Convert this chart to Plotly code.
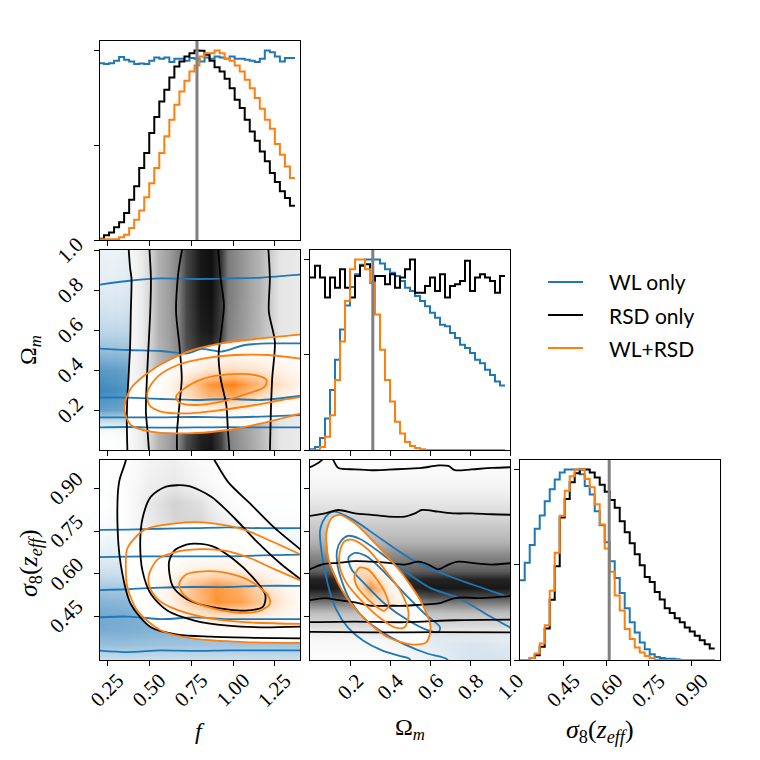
import plotly.graph_objects as go

W = H = 760
BLUE, BLACK, ORANGE, GREY = "#1f77b4", "#000000", "#ff7f0e", "#808080"

# ---------------- axes / ticks ----------------
F_RANGE = [0.206, 1.40]
OM_RANGE = [0.0, 1.0]
S8_RANGE = [0.296, 1.0]
HIST_RANGE = [0.0, 1.05]
F_TICKS = [0.25, 0.50, 0.75, 1.00, 1.25]
F_TICKTEXT = ["0.25", "0.50", "0.75", "1.00", "1.25"]
OM_TICKS = [0.2, 0.4, 0.6, 0.8, 1.0]
OM_TICKTEXT = ["0.2", "0.4", "0.6", "0.8", "1.0"]
S8_TICKS = [0.45, 0.60, 0.75, 0.90]
S8_TICKTEXT = ["0.45", "0.60", "0.75", "0.90"]
HIST_TICKS = [0.0, 0.5, 1.0]
TRUTH_F, TRUTH_OM, TRUTH_S8 = 0.785, 0.314, 0.610
NAMES = ["WL only", "RSD only", "WL+RSD"]

# ---------------- 1D histograms (normalised to peak) ----------------
F_BIN_START, F_BIN_WIDTH = 0.20, 0.030
F_HIST_WL = [0.933, 0.928, 0.933, 0.946, 0.965, 0.951, 0.942, 0.928, 0.931, 0.928,
             0.946, 0.963, 0.956, 0.963, 0.939, 0.956, 0.956, 0.946, 0.960, 0.956,
             0.942, 0.963, 0.956, 0.968, 0.963, 0.956, 0.968, 0.956, 0.956, 0.951,
             0.946, 0.939, 0.956, 1.000, 0.991, 0.968, 0.942, 0.960, 0.960]
F_HIST_RSD = [0.007, 0.025, 0.040, 0.067, 0.093, 0.142, 0.213, 0.283, 0.380, 0.459,
              0.564, 0.649, 0.731, 0.793, 0.858, 0.916, 0.942, 0.968, 0.986, 1.000,
              0.998, 0.977, 0.946, 0.912, 0.889, 0.851, 0.801, 0.740, 0.696, 0.634,
              0.573, 0.524, 0.467, 0.415, 0.353, 0.306, 0.257, 0.221, 0.181]
F_HIST_JOINT = [0.004, 0.004, 0.004, 0.004, 0.014, 0.028, 0.063, 0.107, 0.155, 0.225,
                0.300, 0.380, 0.459, 0.547, 0.634, 0.714, 0.784, 0.840, 0.889, 0.921,
                0.968, 0.986, 0.986, 1.000, 0.986, 0.956, 0.946, 0.921, 0.889, 0.845,
                0.801, 0.749, 0.692, 0.634, 0.587, 0.506, 0.450, 0.388, 0.327]

OM_BIN_START, OM_BIN_WIDTH = 0.0, 0.025
OM_HIST_WL = [0.004, 0.016, 0.063, 0.165, 0.315, 0.474, 0.632, 0.759, 0.856, 0.923,
              0.972, 1.000, 1.000, 1.000, 0.979, 0.949, 0.931, 0.914, 0.887, 0.852,
              0.835, 0.808, 0.782, 0.755, 0.720, 0.694, 0.658, 0.650, 0.614, 0.588,
              0.553, 0.535, 0.509, 0.474, 0.456, 0.421, 0.394, 0.359, 0.338]
OM_HIST_RSD = [0.905, 0.967, 0.905, 0.800, 0.905, 0.852, 0.949, 0.852, 0.800, 0.914,
               0.967, 0.975, 0.879, 0.914, 0.914, 0.870, 0.923, 0.852, 0.905, 0.949,
               1.000, 0.826, 0.826, 0.861, 0.905, 0.835, 0.923, 0.800, 0.861, 0.870,
               0.887, 0.993, 0.835, 0.905, 0.923, 0.905, 0.887, 0.826, 0.914]
OM_HIST_JOINT = [0.0, 0.0, 0.016, 0.069, 0.183, 0.368, 0.570, 0.782, 0.949, 1.000,
                 1.000, 0.949, 0.879, 0.711, 0.526, 0.368, 0.254, 0.148, 0.086, 0.042,
                 0.021, 0.011, 0.004, 0.0, 0.0, 0.0, 0.0, 0.0, 0.0, 0.0,
                 0.0, 0.0, 0.0, 0.0, 0.0, 0.0, 0.0, 0.0, 0.0]

S8_BIN_START, S8_BIN_WIDTH = 0.295, 0.0176
S8_HIST_WL = [0.419, 0.510, 0.604, 0.689, 0.758, 0.834, 0.896, 0.947, 0.984, 1.000,
              1.000, 1.000, 0.975, 0.913, 0.869, 0.781, 0.707, 0.618, 0.519, 0.431,
              0.352, 0.272, 0.198, 0.145, 0.092, 0.057, 0.030, 0.016, 0.011, 0.007,
              0.007, 0.004, 0.0, 0.0, 0.0, 0.0, 0.0, 0.0, 0.0]
S8_HIST_RSD = [0.0, 0.0, 0.010, 0.025, 0.069, 0.166, 0.316, 0.492, 0.748, 0.845,
               0.933, 0.981, 1.000, 1.000, 0.984, 0.958, 0.920, 0.883, 0.840, 0.799,
               0.728, 0.671, 0.613, 0.555, 0.498, 0.436, 0.410, 0.357, 0.318, 0.272,
               0.247, 0.219, 0.198, 0.171, 0.150, 0.127, 0.104, 0.083, 0.060]
S8_HIST_JOINT = [0.0, 0.0, 0.010, 0.034, 0.086, 0.183, 0.363, 0.563, 0.757, 0.889,
                 0.965, 1.000, 1.000, 0.950, 0.907, 0.818, 0.712, 0.586, 0.463, 0.339,
                 0.260, 0.163, 0.110, 0.065, 0.039, 0.021, 0.011, 0.0, 0.0, 0.0,
                 0.0, 0.0, 0.0, 0.0, 0.0, 0.0, 0.0, 0.0, 0.0]

# ---------------- 2D densities (relative to panel peak) ----------------
# panel f - Omega_m
P10_WL_OM = [-0.05, 0.0, 0.05, 0.10, 0.15, 0.20, 0.30, 0.40, 0.50, 0.60, 0.70, 0.80, 0.90, 1.0, 1.05]
P10_WL_DENS = [0.0, 0.0, 0.05, 0.20, 0.55, 0.85, 0.95, 0.88, 0.70, 0.55, 0.45, 0.38, 0.33, 0.30, 0.30]
P10_RSD_F = [0.15, 0.30, 0.37, 0.45, 0.50, 0.55, 0.62, 0.67, 0.72, 0.80, 0.87, 0.93, 0.97, 1.05, 1.15, 1.22, 1.28, 1.35, 1.45]
P10_RSD_DENS = [0.03, 0.08, 0.15, 0.28, 0.40, 0.55, 0.62, 0.70, 0.85, 0.95, 0.97, 0.88, 0.72, 0.65, 0.55, 0.45, 0.32, 0.30, 0.28]
P10_JOINT_F = [0.15, 0.40, 0.55, 0.70, 0.85, 1.00, 1.15, 1.30, 1.45]
P10_JOINT_OM = [-0.05, 0.10, 0.20, 0.27, 0.33, 0.40, 0.50, 0.60, 0.80, 1.05]
P10_JOINT_DENS = [
    [0, 0, 0, 0, 0, 0, 0, 0, 0],
    [0, 0, 0.03, 0.05, 0.06, 0.06, 0.05, 0.03, 0.02],
    [0, 0.02, 0.08, 0.20, 0.30, 0.30, 0.20, 0.12, 0.06],
    [0, 0.03, 0.12, 0.45, 0.75, 0.80, 0.55, 0.30, 0.15],
    [0, 0.03, 0.12, 0.50, 0.90, 1.00, 0.75, 0.45, 0.25],
    [0, 0.02, 0.08, 0.25, 0.45, 0.55, 0.45, 0.30, 0.18],
    [0, 0, 0.03, 0.06, 0.12, 0.15, 0.15, 0.12, 0.08],
    [0, 0, 0, 0.02, 0.03, 0.04, 0.04, 0.04, 0.03],
    [0, 0, 0, 0, 0, 0, 0, 0, 0],
    [0, 0, 0, 0, 0, 0, 0, 0, 0]]

# panel f - sigma8
P20_WL_S8 = [0.25, 0.30, 0.35, 0.40, 0.45, 0.50, 0.55, 0.60, 0.67, 0.75, 0.85, 1.0, 1.05]
P20_WL_DENS = [0.40, 0.50, 0.68, 0.78, 0.80, 0.75, 0.65, 0.50, 0.35, 0.20, 0.08, 0.02, 0.02]
P20_RSD_F = [0.15, 0.35, 0.50, 0.65, 0.80, 0.95, 1.10, 1.25, 1.40, 1.50]
P20_RSD_S8 = [0.25, 0.40, 0.50, 0.60, 0.70, 0.78, 0.85, 0.92, 1.05]
P20_RSD_DENS = [
    [0, 0, 0.02, 0.03, 0.03, 0.03, 0.03, 0.02, 0.02, 0.02],
    [0, 0.02, 0.08, 0.10, 0.12, 0.12, 0.10, 0.08, 0.06, 0.05],
    [0, 0.05, 0.15, 0.30, 0.35, 0.35, 0.30, 0.20, 0.10, 0.08],
    [0, 0.08, 0.20, 0.35, 0.40, 0.35, 0.25, 0.12, 0.06, 0.05],
    [0, 0.10, 0.25, 0.35, 0.38, 0.30, 0.15, 0.06, 0.03, 0.02],
    [0, 0.10, 0.28, 0.40, 0.40, 0.25, 0.08, 0.03, 0.02, 0.01],
    [0, 0.10, 0.30, 0.42, 0.35, 0.15, 0.04, 0.02, 0.01, 0.01],
    [0, 0.10, 0.25, 0.30, 0.20, 0.08, 0.02, 0.01, 0, 0],
    [0, 0.08, 0.20, 0.22, 0.12, 0.05, 0.01, 0, 0, 0]]
P20_JOINT_F = [0.15, 0.45, 0.60, 0.75, 0.90, 1.05, 1.20, 1.35, 1.50]
P20_JOINT_S8 = [0.25, 0.38, 0.44, 0.50, 0.56, 0.62, 0.70, 0.80, 1.05]
P20_JOINT_DENS = [
    [0, 0, 0, 0, 0, 0, 0, 0, 0],
    [0, 0.01, 0.03, 0.05, 0.07, 0.08, 0.08, 0.06, 0.04],
    [0, 0.03, 0.10, 0.25, 0.40, 0.40, 0.30, 0.18, 0.10],
    [0, 0.05, 0.25, 0.65, 0.92, 0.85, 0.60, 0.30, 0.15],
    [0, 0.05, 0.30, 0.70, 0.90, 0.75, 0.45, 0.20, 0.10],
    [0, 0.03, 0.15, 0.30, 0.35, 0.30, 0.20, 0.10, 0.05],
    [0, 0.01, 0.04, 0.06, 0.07, 0.06, 0.04, 0.02, 0.01],
    [0, 0, 0, 0, 0, 0, 0, 0, 0],
    [0, 0, 0, 0, 0, 0, 0, 0, 0]]

# panel Omega_m - sigma8
P21_WL_OM = [-0.05, 0.20, 0.40, 0.50, 0.60, 0.70, 0.80, 0.90, 1.05]
P21_WL_S8 = [0.25, 0.30, 0.35, 0.40, 0.50, 0.60, 0.70, 0.80, 1.05]
P21_WL_DENS = [
    [0, 0, 0.08, 0.20, 0.30, 0.38, 0.45, 0.45, 0.42],
    [0, 0, 0.08, 0.20, 0.30, 0.38, 0.45, 0.45, 0.42],
    [0, 0, 0.12, 0.25, 0.32, 0.38, 0.42, 0.40, 0.35],
    [0, 0.05, 0.25, 0.35, 0.35, 0.30, 0.25, 0.20, 0.18],
    [0, 0.35, 0.50, 0.40, 0.30, 0.20, 0.15, 0.10, 0.08],
    [0.05, 0.60, 0.40, 0.20, 0.10, 0.05, 0.03, 0.02, 0.02],
    [0.20, 0.50, 0.15, 0.05, 0.02, 0.01, 0, 0, 0],
    [0.30, 0.20, 0.03, 0, 0, 0, 0, 0, 0],
    [0.05, 0.02, 0, 0, 0, 0, 0, 0, 0]]
P21_RSD_S8 = [0.25, 0.30, 0.365, 0.42, 0.46, 0.49, 0.52, 0.55, 0.58, 0.61, 0.67, 0.71, 0.81, 0.90, 1.0, 1.05]
P21_RSD_DENS = [0.05, 0.10, 0.17, 0.39, 0.50, 0.67, 0.85, 0.95, 0.93, 0.80, 0.67, 0.55, 0.39, 0.22, 0.10, 0.10]
P21_JOINT_OM = [-0.05, 0.10, 0.20, 0.25, 0.30, 0.35, 0.40, 0.50, 0.60, 0.80, 1.05]
P21_JOINT_S8 = [0.25, 0.40, 0.45, 0.50, 0.55, 0.60, 0.65, 0.70, 0.80, 1.05]
P21_JOINT_DENS = [
    [0, 0, 0, 0, 0, 0, 0, 0, 0, 0, 0],
    [0, 0, 0, 0, 0.02, 0.05, 0.08, 0.08, 0.04, 0, 0],
    [0, 0, 0, 0.03, 0.10, 0.20, 0.25, 0.15, 0.05, 0, 0],
    [0, 0, 0.03, 0.15, 0.40, 0.55, 0.45, 0.15, 0.03, 0, 0],
    [0, 0, 0.12, 0.50, 0.95, 0.70, 0.30, 0.06, 0, 0, 0],
    [0, 0.02, 0.25, 0.60, 0.55, 0.30, 0.10, 0.02, 0, 0, 0],
    [0, 0.03, 0.20, 0.25, 0.15, 0.06, 0.02, 0, 0, 0, 0],
    [0, 0.02, 0.08, 0.07, 0.03, 0, 0, 0, 0, 0, 0],
    [0, 0, 0, 0, 0, 0, 0, 0, 0, 0, 0],
    [0, 0, 0, 0, 0, 0, 0, 0, 0, 0, 0]]

# ---------------- contour lines (x list, y list) ----------------
F7 = [0.19, 0.37, 0.57, 0.77, 0.97, 1.17, 1.42]
P10_WL_LINES = [
    (F7, [0.825, 0.845, 0.858, 0.855, 0.858, 0.862, 0.878]),
    ([0.19, 0.37, 0.57, 0.73, 0.81, 0.93, 1.07, 1.23, 1.42],
     [0.508, 0.500, 0.495, 0.483, 0.505, 0.492, 0.525, 0.533, 0.533]),
    (F7, [0.262, 0.262, 0.255, 0.250, 0.255, 0.250, 0.272]),
    (F7, [0.163, 0.163, 0.163, 0.165, 0.163, 0.167, 0.175]),
    (F7, [0.113, 0.115, 0.112, 0.113, 0.114, 0.113, 0.113])]
P10_RSD_LINES = [
    ([0.376, 0.386, 0.394, 0.390, 0.386, 0.376, 0.370, 0.366, 0.370],
     [1.02, 0.908, 0.858, 0.692, 0.525, 0.358, 0.275, 0.158, -0.02]),
    ([0.50, 0.51, 0.506, 0.496, 0.486, 0.48, 0.49, 0.50],
     [1.02, 0.858, 0.692, 0.525, 0.358, 0.192, 0.092, -0.02]),
    ([0.70, 0.68, 0.67, 0.66, 0.68, 0.694, 0.68, 0.666, 0.666],
     [1.02, 0.925, 0.858, 0.692, 0.525, 0.358, 0.225, 0.092, -0.02]),
    ([0.91, 0.926, 0.946, 0.93, 0.914, 0.926, 0.96, 0.97, 0.98],
     [1.02, 0.858, 0.725, 0.592, 0.475, 0.358, 0.225, 0.092, -0.02]),
    ([1.21, 1.22, 1.214, 1.25, 1.234, 1.226, 1.22],
     [1.02, 0.858, 0.692, 0.542, 0.358, 0.192, -0.02])]
P10_JOINT_LINES = [
    ([0.66, 0.71, 0.83, 0.97, 1.13, 1.20, 1.19, 1.09, 0.93, 0.77, 0.68, 0.66],
     [0.267, 0.308, 0.358, 0.378, 0.375, 0.350, 0.317, 0.283, 0.242, 0.225, 0.238, 0.267]),
    ([1.42, 1.21, 1.01, 0.83, 0.67, 0.55, 0.49, 0.50, 0.57, 0.73, 0.93, 1.13, 1.29, 1.42],
     [0.455, 0.475, 0.475, 0.458, 0.425, 0.367, 0.292, 0.225, 0.192, 0.183, 0.200, 0.225, 0.250, 0.267]),
    ([1.42, 1.17, 0.93, 0.73, 0.53, 0.39, 0.35, 0.39, 0.51, 0.73, 0.97, 1.17, 1.42],
     [0.578, 0.558, 0.533, 0.492, 0.408, 0.308, 0.208, 0.125, 0.092, 0.083, 0.100, 0.133, 0.186])]

P20_WL_LINES = [
    (F7, [0.754, 0.755, 0.758, 0.760, 0.763, 0.760, 0.760]),
    (F7, [0.658, 0.660, 0.661, 0.661, 0.661, 0.664, 0.667]),
    (F7, [0.542, 0.545, 0.551, 0.553, 0.553, 0.557, 0.557]),
    (F7, [0.446, 0.449, 0.440, 0.446, 0.440, 0.440, 0.440]),
    (F7, [0.330, 0.324, 0.330, 0.328, 0.330, 0.330, 0.330])]
P20_RSD_LINES = [
    ([0.618, 0.655, 0.745, 0.875, 1.005, 1.12, 1.193, 1.18, 1.075, 0.875, 0.725, 0.64, 0.618],
     [0.641, 0.684, 0.705, 0.697, 0.650, 0.586, 0.525, 0.484, 0.470, 0.482, 0.510, 0.556, 0.641]),
    ([1.42, 1.29, 1.15, 1.01, 0.87, 0.73, 0.60, 0.51, 0.46, 0.446, 0.46, 0.51, 0.61, 0.77, 0.97, 1.17, 1.42],
     [0.573, 0.632, 0.708, 0.795, 0.871, 0.909, 0.906, 0.871, 0.795, 0.702, 0.609, 0.528, 0.469, 0.435, 0.417, 0.411, 0.414]),
    ([0.85, 0.89, 0.97, 1.11, 1.25, 1.42],
     [1.04, 0.999, 0.923, 0.842, 0.760, 0.677]),
    ([0.364, 0.36, 0.32, 0.31, 0.33, 0.39, 0.51, 0.67, 0.87, 1.13, 1.42],
     [1.04, 0.999, 0.923, 0.783, 0.632, 0.493, 0.411, 0.385, 0.378, 0.374, 0.372])]
P20_JOINT_LINES = [
    ([0.68, 0.72, 0.86, 1.00, 1.12, 1.21, 1.22, 1.16, 1.02, 0.86, 0.74, 0.69, 0.68],
     [0.568, 0.597, 0.609, 0.597, 0.568, 0.522, 0.493, 0.469, 0.463, 0.481, 0.510, 0.539, 0.568]),
    ([1.42, 1.25, 1.10, 0.95, 0.80, 0.65, 0.55, 0.50, 0.50, 0.55, 0.63, 0.83, 1.07, 1.42],
     [0.572, 0.615, 0.655, 0.681, 0.686, 0.675, 0.650, 0.600, 0.555, 0.510, 0.481, 0.446, 0.429, 0.423]),
    ([1.42, 1.23, 1.07, 0.87, 0.67, 0.47, 0.37, 0.36, 0.37, 0.43, 0.57, 0.77, 1.07, 1.42],
     [0.663, 0.714, 0.754, 0.778, 0.778, 0.754, 0.690, 0.632, 0.551, 0.469, 0.400, 0.371, 0.359, 0.356])]

P21_WL_LINES = [
    ([0.52, 0.495, 0.45, 0.36, 0.265, 0.19, 0.13, 0.09, 0.058, 0.05, 0.065, 0.095, 0.125, 0.215, 0.36, 0.52, 0.70, 0.88, 1.0, 1.042],
     [0.27, 0.301, 0.31, 0.33, 0.365, 0.41, 0.475, 0.56, 0.676, 0.75, 0.785, 0.812, 0.818, 0.79, 0.72, 0.645, 0.59, 0.545, 0.516, 0.504]),
    ([0.71, 0.68, 0.59, 0.47, 0.37, 0.27, 0.19, 0.14, 0.135, 0.155, 0.19, 0.25, 0.33, 0.46, 0.60, 0.74, 0.90, 1.0, 1.042],
     [0.272, 0.301, 0.318, 0.352, 0.39, 0.443, 0.52, 0.62, 0.68, 0.715, 0.733, 0.722, 0.685, 0.615, 0.55, 0.515, 0.45, 0.411, 0.402]),
    ([0.192, 0.225, 0.283, 0.375, 0.475, 0.575, 0.65, 0.642, 0.592, 0.492, 0.375, 0.275, 0.208, 0.192],
     [0.656, 0.673, 0.661, 0.603, 0.528, 0.458, 0.411, 0.394, 0.400, 0.435, 0.493, 0.563, 0.615, 0.656])]
P21_RSD_LINES = [
    ([-0.02, 0.0, 0.03, 0.058, 0.07], [0.972, 0.975, 0.985, 0.999, 1.01]),
    ([0.108, 0.117, 0.142, 0.225, 0.308, 0.392, 0.475, 0.558, 0.642, 0.692, 0.725, 0.808, 0.908, 1.02],
     [1.01, 0.999, 0.972, 0.967, 0.964, 0.966, 0.969, 0.972, 0.981, 0.979, 0.964, 0.967, 0.972, 0.975]),
    ([-0.02, 0.075, 0.142, 0.225, 0.308, 0.392, 0.475, 0.525, 0.558, 0.642, 0.725, 0.808, 0.908, 1.02],
     [0.801, 0.812, 0.824, 0.812, 0.807, 0.801, 0.801, 0.812, 0.824, 0.818, 0.812, 0.812, 0.809, 0.807]),
    ([-0.02, 0.058, 0.142, 0.225, 0.308, 0.392, 0.475, 0.542, 0.592, 0.642, 0.692, 0.742, 0.842, 0.908, 1.02],
     [0.609, 0.632, 0.638, 0.644, 0.642, 0.638, 0.632, 0.642, 0.632, 0.615, 0.632, 0.642, 0.635, 0.632, 0.638]),
    ([-0.02, 0.075, 0.142, 0.225, 0.308, 0.392, 0.475, 0.558, 0.642, 0.725, 0.775, 0.842, 1.02],
     [0.504, 0.514, 0.507, 0.499, 0.487, 0.487, 0.487, 0.491, 0.495, 0.514, 0.516, 0.514, 0.522]),
    ([-0.02, 0.225, 0.475, 0.725, 1.02], [0.429, 0.431, 0.429, 0.436, 0.438]),
    ([-0.02, 0.308, 0.642, 1.02], [0.395, 0.393, 0.394, 0.393])]
P21_JOINT_LINES = [
    ([0.223, 0.248, 0.290, 0.340, 0.382, 0.393, 0.370, 0.323, 0.265, 0.232, 0.223],
     [0.592, 0.621, 0.615, 0.574, 0.522, 0.487, 0.469, 0.489, 0.528, 0.559, 0.592]),
    ([0.148, 0.173, 0.215, 0.290, 0.373, 0.457, 0.493, 0.473, 0.423, 0.357, 0.265, 0.182, 0.148, 0.148],
     [0.673, 0.714, 0.719, 0.685, 0.615, 0.533, 0.458, 0.411, 0.411, 0.440, 0.499, 0.568, 0.626, 0.673]),
    ([0.082, 0.107, 0.148, 0.223, 0.340, 0.457, 0.557, 0.603, 0.582, 0.507, 0.390, 0.257, 0.157, 0.093, 0.082],
     [0.743, 0.795, 0.807, 0.778, 0.696, 0.603, 0.499, 0.411, 0.359, 0.351, 0.376, 0.452, 0.545, 0.650, 0.743])]

# ---------------- layout geometry (pixels) ----------------
def px_x(a, b):
    return [a / W, b / W]


def px_y(top, bottom):
    return [1 - bottom / H, 1 - top / H]


COLS = [px_x(100, 300), px_x(310, 510), px_x(520, 720)]
ROWS = [px_y(41, 240), px_y(250, 450), px_y(460, 660)]
TICK_FONT = dict(family="Liberation Serif", size=21, color="black")
TITLE_FONT = dict(family="Liberation Serif", size=24, color="black")
SIGMA_FONT = dict(family="Liberation Serif", size=26, color="black")
LEGEND_FONT = dict(family="Lato", size=21, color="black")
LINE_W = 1.8

fig = go.Figure()


def rgb_of(hexc):
    return tuple(int(hexc[i:i + 2], 16) for i in (1, 3, 5))


def density_scale(hexc):
    r, g, b = rgb_of(hexc)
    return [[0, "rgba(255,255,255,0)"], [1, f"rgba({r},{g},{b},1)"]]


def add_heat(x, y, z, color, xa, ya):
    fig.add_trace(go.Heatmap(x=x, y=y, z=z, zmin=0, zmax=1, zsmooth="best",
                             colorscale=density_scale(color), showscale=False,
                             xaxis=xa, yaxis=ya, hoverinfo="skip"))


def add_white(xs, ys, xa, ya):
    fig.add_trace(go.Scatter(x=xs, y=ys, mode="lines", fill="toself", fillcolor="white",
                             line=dict(width=0, color="white"), xaxis=xa, yaxis=ya,
                             showlegend=False, hoverinfo="skip"))


def add_lines(lines, color, xa, ya):
    for xs, ys in lines:
        fig.add_trace(go.Scatter(x=xs, y=ys, mode="lines",
                                 line=dict(color=color, width=LINE_W, shape="spline", smoothing=0.8),
                                 xaxis=xa, yaxis=ya, showlegend=False, hoverinfo="skip"))


def add_hist(start, width, vals, color, xa, ya):
    xs = [start + i * width for i in range(len(vals) + 1)]
    ys = list(vals) + [vals[-1]]
    fig.add_trace(go.Scatter(x=xs, y=ys, mode="lines", line=dict(color=color, width=2, shape="hv"),
                             xaxis=xa, yaxis=ya, showlegend=False, hoverinfo="skip"))


def add_truth(val, xa, ya):
    fig.add_trace(go.Scatter(x=[val, val], y=HIST_RANGE, mode="lines", line=dict(color=GREY, width=3),
                             xaxis=xa, yaxis=ya, showlegend=False, hoverinfo="skip"))


# ---- panel (0,0): f histogram ----
add_hist(F_BIN_START, F_BIN_WIDTH, F_HIST_WL, BLUE, "x", "y")
add_hist(F_BIN_START, F_BIN_WIDTH, F_HIST_RSD, BLACK, "x", "y")
add_hist(F_BIN_START, F_BIN_WIDTH, F_HIST_JOINT, ORANGE, "x", "y")
add_truth(TRUTH_F, "x", "y")

# ---- panel (1,0): f vs Omega_m ----
add_heat([0.1, 1.5], P10_WL_OM, [[v, v] for v in P10_WL_DENS], BLUE, "x2", "y2")
v1x, v1y = P10_RSD_LINES[0]
add_white(v1x + [1.6, 1.6, v1x[0]], v1y + [-0.1, 1.1, 1.1], "x2", "y2")
add_heat(P10_RSD_F, [-0.1, 1.1], [P10_RSD_DENS, P10_RSD_DENS], BLACK, "x2", "y3")
o3x, o3y = P10_JOINT_LINES[2]
add_white(o3x + [1.6, 1.6], o3y + [o3y[-1], o3y[0]], "x2", "y3")
add_heat(P10_JOINT_F, P10_JOINT_OM, P10_JOINT_DENS, ORANGE, "x2", "y4")
add_lines(P10_WL_LINES, BLUE, "x2", "y4")
add_lines(P10_RSD_LINES, BLACK, "x2", "y4")
add_lines(P10_JOINT_LINES, ORANGE, "x2", "y4")

# ---- panel (1,1): Omega_m histogram ----
add_hist(OM_BIN_START, OM_BIN_WIDTH, OM_HIST_WL, BLUE, "x5", "y5")
add_hist(OM_BIN_START, OM_BIN_WIDTH, OM_HIST_RSD, BLACK, "x5", "y5")
add_hist(OM_BIN_START, OM_BIN_WIDTH, OM_HIST_JOINT, ORANGE, "x5", "y5")
add_truth(TRUTH_OM, "x5", "y5")

# ---- panel (2,0): f vs sigma8 ----
add_heat([0.1, 1.5], P20_WL_S8, [[v, v] for v in P20_WL_DENS], BLUE, "x6", "y6")
k3rx, k3ry = P20_RSD_LINES[2]
k3lx, k3ly = P20_RSD_LINES[3]
add_white(k3lx + [1.6, 1.6] + k3rx[::-1] + [k3lx[0]],
          k3ly + [k3ly[-1], k3ry[-1]] + k3ry[::-1] + [k3ly[0]], "x6", "y6")
add_heat(P20_RSD_F, P20_RSD_S8, P20_RSD_DENS, BLACK, "x6", "y7")
oox, ooy = P20_JOINT_LINES[2]
add_white(oox + [1.6, 1.6], ooy + [ooy[-1], ooy[0]], "x6", "y7")
add_heat(P20_JOINT_F, P20_JOINT_S8, P20_JOINT_DENS, ORANGE, "x6", "y8")
add_lines(P20_WL_LINES, BLUE, "x6", "y8")
add_lines(P20_RSD_LINES, BLACK, "x6", "y8")
add_lines(P20_JOINT_LINES, ORANGE, "x6", "y8")

# ---- panel (2,1): Omega_m vs sigma8 ----
add_heat(P21_WL_OM, P21_WL_S8, P21_WL_DENS, BLUE, "x9", "y9")
hsx, hsy = P21_RSD_LINES[0]
h2x, h2y = P21_RSD_LINES[1]
h7x, h7y = P21_RSD_LINES[6]
add_white(h7x + [1.1] + h2x[::-1] + [hsx[-1]] + hsx[::-1] + [-0.1],
          h7y + [h2y[-1]] + h2y[::-1] + [1.1] + hsy[::-1] + [hsy[0]], "x9", "y9")
add_heat([-0.1, 1.1], P21_RSD_S8, [[v, v] for v in P21_RSD_DENS], BLACK, "x9", "y10")
jx, jy = P21_JOINT_LINES[2]
add_white(jx, jy, "x9", "y10")
add_heat(P21_JOINT_OM, P21_JOINT_S8, P21_JOINT_DENS, ORANGE, "x9", "y11")
add_lines(P21_WL_LINES, BLUE, "x9", "y11")
add_lines(P21_RSD_LINES, BLACK, "x9", "y11")
add_lines(P21_JOINT_LINES, ORANGE, "x9", "y11")

# ---- panel (2,2): sigma8 histogram ----
add_hist(S8_BIN_START, S8_BIN_WIDTH, S8_HIST_WL, BLUE, "x12", "y12")
add_hist(S8_BIN_START, S8_BIN_WIDTH, S8_HIST_RSD, BLACK, "x12", "y12")
add_hist(S8_BIN_START, S8_BIN_WIDTH, S8_HIST_JOINT, ORANGE, "x12", "y12")
add_truth(TRUTH_S8, "x12", "y12")


def axis(domain, rng, ticks, anchor):
    return dict(domain=domain, range=rng, anchor=anchor, showline=True, mirror=True,
                linecolor="black", linewidth=1, ticks="outside", ticklen=5, tickwidth=1,
                tickcolor="black", tickvals=ticks, showticklabels=False, showgrid=False,
                zeroline=False, fixedrange=True)


def overlay(base, rng, anchor):
    return dict(overlaying=base, range=rng, anchor=anchor, visible=False, fixedrange=True)


layout = dict(
    width=W, height=H, margin=dict(l=0, r=0, t=0, b=0),
    paper_bgcolor="white", plot_bgcolor="white", showlegend=False,
    xaxis=axis(COLS[0], F_RANGE, F_TICKS, "y"),
    yaxis=axis(ROWS[0], HIST_RANGE, HIST_TICKS, "x"),
    xaxis2=axis(COLS[0], F_RANGE, F_TICKS, "y2"),
    yaxis2=axis(ROWS[1], OM_RANGE, OM_TICKS, "x2"),
    yaxis3=overlay("y2", OM_RANGE, "x2"),
    yaxis4=overlay("y2", OM_RANGE, "x2"),
    xaxis5=axis(COLS[1], OM_RANGE, OM_TICKS, "y5"),
    yaxis5=axis(ROWS[1], HIST_RANGE, HIST_TICKS, "x5"),
    xaxis6=axis(COLS[0], F_RANGE, F_TICKS, "y6"),
    yaxis6=axis(ROWS[2], S8_RANGE, S8_TICKS, "x6"),
    yaxis7=overlay("y6", S8_RANGE, "x6"),
    yaxis8=overlay("y6", S8_RANGE, "x6"),
    xaxis9=axis(COLS[1], OM_RANGE, OM_TICKS, "y9"),
    yaxis9=axis(ROWS[2], S8_RANGE, S8_TICKS, "x9"),
    yaxis10=overlay("y9", S8_RANGE, "x9"),
    yaxis11=overlay("y9", S8_RANGE, "x9"),
    xaxis12=axis(COLS[2], S8_RANGE, S8_TICKS, "y12"),
    yaxis12=axis(ROWS[2], HIST_RANGE, HIST_TICKS, "x12"),
)
fig.update_layout(**layout)

ann = []
for xa, vals, texts in (("x6", F_TICKS, F_TICKTEXT), ("x9", OM_TICKS, OM_TICKTEXT),
                        ("x12", S8_TICKS, S8_TICKTEXT)):
    for v, t in zip(vals, texts):
        ann.append(dict(x=v, xref=xa, y=ROWS[2][0], yref="paper", text=t, textangle=-45,
                        xanchor="center", yanchor="top", yshift=-6, showarrow=False, font=TICK_FONT))
for ya, vals, texts in (("y2", OM_TICKS, OM_TICKTEXT), ("y6", S8_TICKS, S8_TICKTEXT)):
    for v, t in zip(vals, texts):
        ann.append(dict(x=COLS[0][0], xref="paper", y=v, yref=ya, text=t, textangle=-45,
                        xanchor="right", yanchor="middle", xshift=-9, showarrow=False, font=TICK_FONT))

TITLES = [
    ("<i>f</i>", 200, 731, 0, TITLE_FONT),
    ("Ω<sub><i>m</i></sub>", 410, 729, 0, TITLE_FONT),
    ("<i>σ</i><sub>8</sub>(<i>z</i><sub><i>eff</i></sub>)", 600, 731, 0, SIGMA_FONT),
    ("Ω<sub><i>m</i></sub>", 30, 350, -90, TITLE_FONT),
    ("<i>σ</i><sub>8</sub>(<i>z</i><sub><i>eff</i></sub>)", 30, 563, -90, SIGMA_FONT),
]
for text, px, py, ang, font in TITLES:
    ann.append(dict(x=px / W, y=1 - py / H, xref="paper", yref="paper", text=text, textangle=ang,
                    xanchor="center", yanchor="middle", showarrow=False, font=font))

# legend (line samples + labels)
LEGEND_ROWS = [282, 315, 348]
shapes = []
for name, color, row in zip(NAMES, [BLUE, BLACK, ORANGE], LEGEND_ROWS):
    shapes.append(dict(type="line", xref="paper", yref="paper", x0=548 / W, x1=583 / W,
                       y0=1 - row / H, y1=1 - row / H, line=dict(color=color, width=2)))
    ann.append(dict(x=607 / W, y=1 - row / H, xref="paper", yref="paper", text=name,
                    xanchor="left", yanchor="middle", showarrow=False, font=LEGEND_FONT))

fig.update_layout(annotations=ann, shapes=shapes)

fig.write_html("out.html")
